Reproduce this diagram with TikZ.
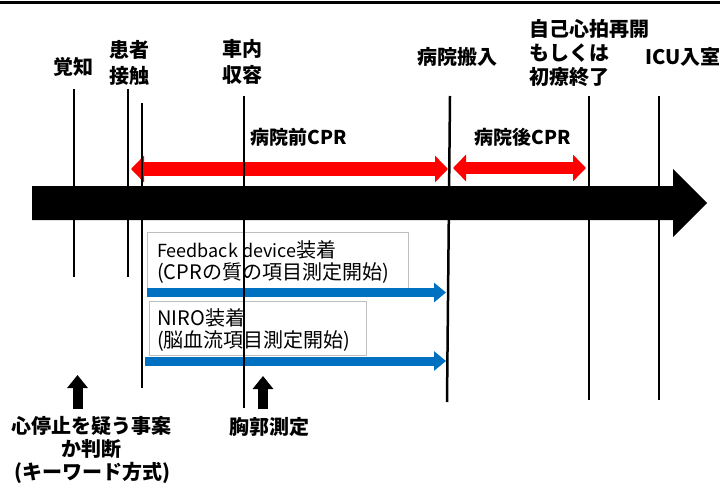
\documentclass[tikz,border=0pt]{standalone}
\usepackage{fontspec}
\setmainfont{Noto Sans CJK JP}
\usetikzlibrary{arrows.meta}
\definecolor{cprred}{RGB}{255,0,0}
\definecolor{devblue}{RGB}{0,112,192}
\definecolor{boxgray}{RGB}{191,191,191}
\newcommand\latsmall[1]{{\fontsize{18}{23}\selectfont #1}}
\tikzset{
  vline/.style={line width=2.5pt, black},
  lbl/.style={font=\fontsize{20}{26}\selectfont\bfseries, align=center, inner sep=0pt},
  lbll/.style={font=\fontsize{20}{24}\selectfont\bfseries, align=left, inner sep=0pt, anchor=west},
  cprlbl/.style={font=\fontsize{19}{23}\selectfont\bfseries, inner sep=0pt},
  redarr/.style={line width=14pt, cprred, {Triangle[length=13pt,width=26pt]}-{Triangle[length=13pt,width=26pt]}},
  bluearr/.style={line width=9pt, devblue, -{Triangle[length=12pt,width=19pt]}},
  devbox/.style={draw=boxgray, line width=0.8pt},
  boxtxt/.style={font=\fontsize{20}{23}\selectfont, align=left, anchor=west, inner sep=0pt},
  uparr/.style={line width=10pt, black, -{Triangle[length=13pt,width=20pt]}},
  btxt/.style={font=\fontsize{20}{23}\selectfont\bfseries, align=center, inner sep=0pt},
}
\begin{document}
\begin{tikzpicture}[x=1pt,y=-1pt]
\useasboundingbox (0,0) rectangle (720,484);
% top rule
\fill[black] (0,1) rectangle (720,4);
% boxes
\draw[devbox] (147,232) rectangle (408,288);
\draw[devbox] (149,301) rectangle (366,355);
\node[boxtxt] (b1a) at (157,250) {\latsmall{Feedback device}装着};
\node[boxtxt] (b1b) at (157,273) {(CPRの質の項目測定開始)};
\node[boxtxt] (b2a) at (157,318) {NIRO装着};
\node[boxtxt] (b2b) at (157,341) {(脳血流項目測定開始)};
% blue arrows
\coordinate (ba1s) at (147,292.5);
\coordinate (ba1e) at (446,292.5);
\coordinate (ba2s) at (145,361);
\coordinate (ba2e) at (446,361);
\draw[bluearr] (ba1s) -- (ba1e);
\draw[bluearr] (ba2s) -- (ba2e);
% main time arrow
\fill[black] (32,186) -- (673,186) -- (673,169) -- (707,203) -- (673,237) -- (673,220) -- (32,220) -- cycle;
% red arrows
\coordinate (r1s) at (131,169);
\coordinate (r1e) at (448,169);
\coordinate (r2s) at (453,168);
\coordinate (r2e) at (586,168);
\draw[redarr] (r1s) -- (r1e);
\draw[redarr, line width=12pt] (r2s) -- (r2e);
\node[cprlbl] (pre) at (299,137) {病院前CPR};
\node[cprlbl] (post) at (523,137) {病院後CPR};
% vertical lines
\coordinate (l1t) at (74,89);   \coordinate (l1b) at (74,277);
\coordinate (l2t) at (128,89);  \coordinate (l2b) at (128,277);
\coordinate (l3t) at (142,103); \coordinate (l3b) at (142,388);
\coordinate (l4t) at (244,96);  \coordinate (l4b) at (244,408);
\coordinate (l5t) at (450,96);  \coordinate (l5b) at (447,402);
\coordinate (l6t) at (589,96);  \coordinate (l6b) at (589,400);
\coordinate (l7t) at (659,96);  \coordinate (l7b) at (659,400);
\foreach \i in {1,...,7} \draw[vline] (l\i t) -- (l\i b);
% top labels
\node[lbl] (kakuchi) at (73,67) {覚知};
\node[lbl] (kanja) at (129,63) {患者\\接触};
\node[lbl] (shanai) at (242,62) {車内\\収容};
\node[lbl] (hanyu) at (457,57) {病院搬入};
\node[lbll] (rosc) at (529,53) {自己心拍再開\\もしくは\\初療終了};
\node[lbll] (icu) at (645,57) {ICU入室};
% up arrows
\coordinate (u1s) at (77.5,409); \coordinate (u1e) at (77.5,375);
\coordinate (u2s) at (263,409);  \coordinate (u2e) at (263,376);
\draw[uparr] (u1s) -- (u1e);
\draw[uparr] (u2s) -- (u2e);
% bottom labels
\node[btxt] (judge) at (92,450) {心停止を疑う事案\\か判断\\(キーワード方式)};
\node[btxt] (chest) at (269,427) {胸郭測定};
\end{tikzpicture}
\end{document}
